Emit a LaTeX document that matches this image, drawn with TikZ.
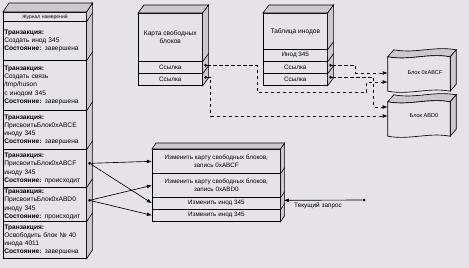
\documentclass[tikz,border=0pt]{standalone}
\usepackage{fontspec}
\setmainfont{Liberation Sans}
\usetikzlibrary{positioning,arrows.meta}
\definecolor{paper}{RGB}{229,227,231}
\definecolor{shade}{RGB}{203,201,205}
\tikzset{
  flowarrow/.style={-{Latex[length=1.8mm,width=1.3mm]}, line width=0.65pt},
  refarrow/.style={-{Latex[length=1.8mm,width=1.3mm]}, line width=0.65pt, dash pattern=on 3.5pt off 2.5pt},
  rowbox/.style={draw, line width=0.65pt, fill=paper, inner sep=1pt, anchor=north west},
  logrow/.style={rowbox, text width=81pt, align=left, font=\fontsize{6.6}{8.2}\selectfont},
  reqrow/.style={rowbox, minimum width=128pt, align=center, font=\fontsize{6.3}{7.6}\selectfont},
  tblrow/.style={rowbox, minimum width=64pt, align=center, font=\fontsize{6.3}{7.6}\selectfont},
  face/.style={draw, line width=0.65pt, fill=shade},
  blockframe/.style={minimum width=62pt, minimum height=34pt, inner sep=0pt},
  blocklabel/.style={font=\fontsize{5.6}{6}\selectfont, inner sep=0pt},
  dot/.style={circle, fill=black, inner sep=0pt, minimum size=3pt},
  relabel/.style={font=\fontsize{6.4}{7}\selectfont, inner sep=1pt}
}

\begin{document}
\begin{tikzpicture}[x=1pt, y=-1pt, >=Latex]
  \path[use as bounding box, fill=paper] (0,0) rectangle (469,268);

  % intent log
  \node[logrow, minimum height=9pt, align=center, font=\fontsize{5}{6}\selectfont] (logtitle) at (3,12) {Журнал намерений};
  \node[logrow, minimum height=39pt] (t1) at (3,21) {\textbf{Транзакция:}\\Создать инод 345\\\textbf{Состояние:} завершена};
  \node[logrow, minimum height=50pt] (t2) at (3,60) {\textbf{Транзакция:}\\Создать связь\\/tmp/huson\\с инодом 345\\\textbf{Состояние:} завершена};
  \node[logrow, minimum height=39pt] (t3) at (3,110) {\textbf{Транзакция:}\\ПрисвоитьБлок0xABCE\\иноду 345\\\textbf{Состояние:} завершена};
  \node[logrow, minimum height=38pt] (t4) at (3,149) {\textbf{Транзакция:}\\ПрисвоитьБлок0xABCF\\иноду 345\\\textbf{Состояние:} происходит};
  \node[logrow, minimum height=34pt] (t5) at (3,187) {\textbf{Транзакция:}\\ПрисвоитьБлок0xABD0\\иноду 345\\\textbf{Состояние:} происходит};
  \node[logrow, minimum height=37pt] (t6) at (3,221) {\textbf{Транзакция:}\\Освободить блок № 40\\инода 4011\\\textbf{Состояние:} завершена};
  \draw[face] (logtitle.north west) -- ++(6,-9) -- ([shift={(6,-9)}]logtitle.north east) -- (logtitle.north east) -- cycle;
  \draw[face] (logtitle.north east) -- ++(6,-9) -- ([shift={(6,-9)}]t6.south east) -- (t6.south east) -- cycle;
  \draw[line width=0.65pt] (logtitle.south east) -- ++(6,-9) (t1.south east) -- ++(6,-9)
    (t2.south east) -- ++(6,-9) (t3.south east) -- ++(6,-9) (t4.south east) -- ++(6,-9) (t5.south east) -- ++(6,-9);

  % free block map
  \node[tblrow, minimum height=48pt, font=\fontsize{6.6}{8}\selectfont] (fmtitle) at (138,13) {Карта свободных\\блоков};
  \node[tblrow, minimum height=12pt] (fmref1) at (138,61) {Ссылка};
  \node[tblrow, minimum height=12pt] (fmref2) at (138,73) {Ссылка};
  \draw[face] (fmtitle.north west) -- ++(6,-8) -- ([shift={(6,-8)}]fmtitle.north east) -- (fmtitle.north east) -- cycle;
  \draw[face] (fmtitle.north east) -- ++(6,-8) -- ([shift={(6,-8)}]fmref2.south east) -- (fmref2.south east) -- cycle;
  \draw[line width=0.65pt] (fmtitle.south east) -- ++(6,-8) (fmref1.south east) -- ++(6,-8);

  % inode table
  \node[tblrow, minimum height=36pt, font=\fontsize{6.6}{8}\selectfont] (ittitle) at (263,13) {Таблица инодов};
  \node[tblrow, minimum height=12pt] (it345) at (263,49) {Инод 345};
  \node[tblrow, minimum height=12pt] (itref1) at (263,61) {Ссылка};
  \node[tblrow, minimum height=12pt] (itref2) at (263,73) {Ссылка};
  \draw[face] (ittitle.north west) -- ++(6,-8) -- ([shift={(6,-8)}]ittitle.north east) -- (ittitle.north east) -- cycle;
  \draw[face] (ittitle.north east) -- ++(6,-8) -- ([shift={(6,-8)}]itref2.south east) -- (itref2.south east) -- cycle;
  \draw[line width=0.65pt] (ittitle.south east) -- ++(6,-8) (it345.south east) -- ++(6,-8) (itref1.south east) -- ++(6,-8);

  % disk blocks
  \node[blockframe] (blk1) at (419,74) {};
  \node[blockframe] (blk2) at (419,119) {};
  \draw[face] (blk1.north west) -- ++(6,-7) .. controls +(22,4) and +(-22,-4) .. ([shift={(6,-7)}]blk1.north east)
    -- (blk1.north east) .. controls +(-22,-4) and +(22,4) .. (blk1.north west) -- cycle;
  \draw[face] (blk1.north east) -- ++(6,-7) -- ([shift={(6,-7)}]blk1.south east) -- (blk1.south east) -- cycle;
  \draw[line width=0.65pt, fill=paper] (blk1.north west) .. controls +(22,4) and +(-22,-4) .. (blk1.north east)
    -- (blk1.south east) .. controls +(-22,-4) and +(22,4) .. (blk1.south west) -- cycle;
  \draw[face] (blk2.north west) -- ++(6,-7) .. controls +(22,4) and +(-22,-4) .. ([shift={(6,-7)}]blk2.north east)
    -- (blk2.north east) .. controls +(-22,-4) and +(22,4) .. (blk2.north west) -- cycle;
  \draw[face] (blk2.north east) -- ++(6,-7) -- ([shift={(6,-7)}]blk2.south east) -- (blk2.south east) -- cycle;
  \draw[line width=0.65pt, fill=paper] (blk2.north west) .. controls +(22,4) and +(-22,-4) .. (blk2.north east)
    -- (blk2.south east) .. controls +(-22,-4) and +(22,4) .. (blk2.south west) -- cycle;
  \node[blocklabel] (blk1lbl) at (425,73) {Блок 0xABCF};
  \node[blocklabel] (blk2lbl) at (424,116) {Блок ABD0};

  % request
  \node[reqrow, minimum height=24pt] (r1) at (152,149) {Изменить карту свободных блоков,\\запись 0xABCF};
  \node[reqrow, minimum height=24pt] (r2) at (152,173) {Изменить карту свободных блоков,\\запись 0xABD0};
  \node[reqrow, minimum height=12pt] (r3) at (152,197) {Изменить инод 345};
  \node[reqrow, minimum height=12pt] (r4) at (152,209) {Изменить инод 345};
  \draw[face] (r1.north west) -- ++(4,-6) -- ([shift={(4,-6)}]r1.north east) -- (r1.north east) -- cycle;
  \draw[face] (r1.north east) -- ++(4,-6) -- ([shift={(4,-6)}]r4.south east) -- (r4.south east) -- cycle;
  \draw[line width=0.65pt] (r1.south east) -- ++(4,-6) (r2.south east) -- ++(4,-6) (r3.south east) -- ++(4,-6);

  % dots
  \node[dot] (d4) at ([shift={(3,-5)}]t4.east) {};
  \node[dot] (d5) at ([shift={(3,-4)}]t5.east) {};
  \node[dot] (fmd1) at ([shift={(3,-2)}]fmref1.east) {};
  \node[dot] (fmd2) at ([shift={(3,-2)}]fmref2.east) {};
  \node[dot] (itd1) at ([shift={(3,-2)}]itref1.east) {};
  \node[dot] (itd2) at ([shift={(3,-2)}]itref2.east) {};
  \node[dot] (cur) at (364,200) {};
  \coordinate (r3in) at ([shift={(3,-3)}]r3.east);
  \coordinate (blk1in1) at ([yshift=1pt]blk1.west);
  \coordinate (blk1in2) at ([yshift=-8pt]blk1.west);
  \coordinate (blk2in1) at ([yshift=12pt]blk2.west);
  \coordinate (blk2in2) at ([yshift=3pt]blk2.west);

  % log -> request
  \draw[flowarrow] (d4) -- (r1.west);
  \draw[flowarrow] (d4) -- (r3.west);
  \draw[flowarrow] (d5) -- (r2.west);
  \draw[flowarrow] (d5) -- (r4.west);

  % references -> blocks
  \draw[refarrow] (fmd1) -| (257,92) -| ([xshift=-21pt]blk1in2) -- (blk1in2);
  \draw[refarrow] (fmd2) -| ([xshift=-177pt]blk2in2) -- (blk2in2);
  \draw[refarrow] (itd1) -| ([xshift=-32pt]blk1in1) -- (blk1in1);
  \draw[refarrow] (itd2) -| ([xshift=-14pt]blk2in1) -- (blk2in1);

  % current request
  \draw[flowarrow] (cur) -- (r3in);
  \node[relabel, anchor=north west] (curlbl) at (293,202) {Текущий запрос};
\end{tikzpicture}
\end{document}
